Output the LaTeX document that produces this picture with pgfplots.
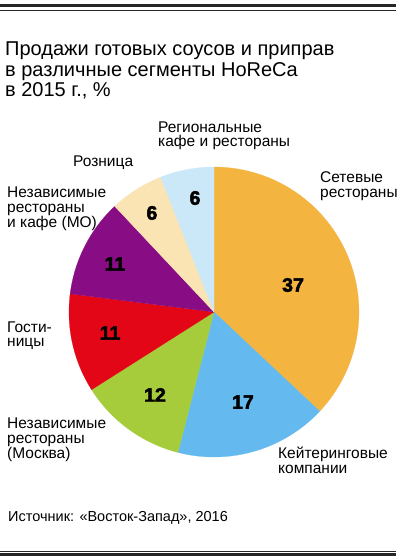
\documentclass[border=0pt]{standalone}
\usepackage{fontspec}
\setmainfont{Liberation Sans}
\newfontfamily\heavy{Liberation Sans}[BoldFeatures={FakeBold=2.5}]
\usepackage{pgfplots}
\pgfplotsset{compat=1.18}

\definecolor{cOrange}{RGB}{244,180,64}
\definecolor{cBlue}{RGB}{100,186,238}
\definecolor{cGreen}{RGB}{166,204,60}
\definecolor{cRed}{RGB}{226,6,22}
\definecolor{cPurple}{RGB}{136,12,132}
\definecolor{cCream}{RGB}{251,228,180}
\definecolor{cLight}{RGB}{202,232,248}

% one pie slice, clockwise from the current angle
\def\astart{90}
\newcommand\slice[2]{%
  \pgfmathsetmacro\aend{\astart-3.6*#1}%
  \edef\tmp{\noexpand\addplot[fill=#2, draw=#2, line width=0.2pt,
    domain=\aend:\astart, samples=80] ({cos(x)},{sin(x)}) -- (axis cs:0,0) -- cycle;}%
  \tmp
  \global\let\astart\aend}

% text line by its baseline, y measured from the top of the picture
\newcommand\lbl[3]{\node[anchor=base west, inner sep=0pt, font=\fontsize{15.5}{15}\selectfont] at (#1pt,{558pt-#2pt}) {#3};}
\newcommand\ttl[2]{\node[anchor=base west, inner sep=0pt, font=\fontsize{20}{20}\selectfont] at (5pt,{558pt-#1pt}) {#2};}

\begin{document}
\begin{tikzpicture}
\useasboundingbox (0,0) rectangle (400pt,558pt);
\fill[white] (0,0) rectangle (400pt,558pt);

% rules top and bottom
\fill[black!85] (0pt,551pt) rectangle (396pt,553.5pt);
\fill[black!85] (0pt,547.5pt) rectangle (396pt,548.3pt);
\fill[black!85] (0pt,6.5pt) rectangle (396pt,7.3pt);
\fill[black!85] (0pt,2pt) rectangle (396pt,4.5pt);

% title
\ttl{56}{Продажи готовых соусов и приправ}
\ttl{76.5}{в различные сегменты HoReCa}
\ttl{97}{в 2015 г., \%}

\begin{axis}[
  at={(214pt,246pt)}, anchor=center,
  width=290pt, height=290pt, scale only axis,
  xmin=-1, xmax=1, ymin=-1, ymax=1,
  hide axis, clip=false,
]
\slice{37}{cOrange}
\slice{17}{cBlue}
\slice{12}{cGreen}
\slice{11}{cRed}
\slice{11}{cPurple}
\slice{6}{cCream}
\slice{6}{cLight}

\begin{scope}[every node/.style={font=\heavy\bfseries\fontsize{19.5}{20}\selectfont}]
\node at (axis cs:0.545,0.186) {37};
\node at (axis cs:0.20,-0.621) {17};
\node at (axis cs:-0.407,-0.572) {12};
\node at (axis cs:-0.717,-0.145) {11};
\node at (axis cs:-0.683,0.331) {11};
\node at (axis cs:-0.428,0.683) {6};
\node at (axis cs:-0.131,0.786) {6};
\end{scope}
\end{axis}

% segment names
\lbl{158}{133}{Региональные}
\lbl{158}{147}{кафе и рестораны}
\lbl{73}{167}{Розница}
\lbl{320}{183}{Сетевые}
\lbl{320}{198}{рестораны}
\lbl{7}{198}{Независимые}
\lbl{7}{213}{рестораны}
\lbl{7}{228}{и кафе (МО)}
\lbl{7}{333}{Гости-}
\lbl{7}{347}{ницы}
\lbl{7}{429}{Независимые}
\lbl{7}{444}{рестораны}
\lbl{7}{459}{(Москва)}
\lbl{278}{459}{Кейтеринговые}
\lbl{278}{474}{компании}

% source
\node[anchor=base west, inner sep=0pt, font=\fontsize{14.5}{15}\selectfont] at (8pt,{558pt-521pt}) {Источник: «Восток-Запад», 2016};
\end{tikzpicture}
\end{document}
